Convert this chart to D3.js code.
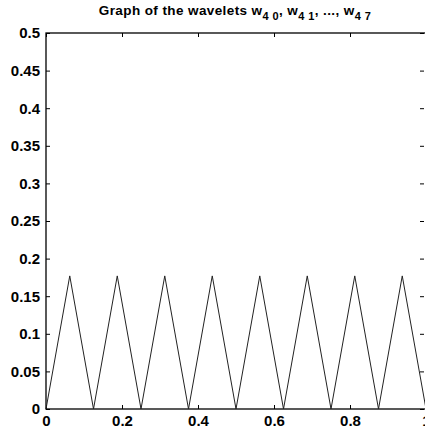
<!DOCTYPE html>
<html><head><meta charset="utf-8">
<script src="https://cdn.jsdelivr.net/npm/d3@7"></script>
<style>body{margin:0;background:#fff}svg{display:block}</style>
</head><body><svg id="c" width="425" height="435"></svg>
<script>
const xPoints = [0, 0.0625, 0.125, 0.1875, 0.25, 0.3125, 0.375, 0.4375, 0.5, 0.5625, 0.625, 0.6875, 0.75, 0.8125, 0.875, 0.9375, 1];
const yPoints = [0, 0.177, 0, 0.177, 0, 0.177, 0, 0.177, 0, 0.177, 0, 0.177, 0, 0.177, 0, 0.177, 0];
const xTicks = [0, 0.2, 0.4, 0.6, 0.8, 1];
const xTickLabels = ["0", "0.2", "0.4", "0.6", "0.8", "1"];
const yTicks = [0, 0.05, 0.1, 0.15, 0.2, 0.25, 0.3, 0.35, 0.4, 0.45, 0.5];
const yTickLabels = ["0", "0.05", "0.1", "0.15", "0.2", "0.25", "0.3", "0.35", "0.4", "0.45", "0.5"];

const svg = d3.select("#c");
const L = 46, R = 426, T = 33, B = 409;
const x = d3.scaleLinear().domain([0, 1]).range([L, R]);
const y = d3.scaleLinear().domain([0, 0.5]).range([B, T]);
const font = "'Liberation Sans', Arial, sans-serif";

// frame
svg.append("rect").attr("x", L).attr("y", T).attr("width", R - L).attr("height", B - T)
  .attr("fill", "none").attr("stroke", "#000").attr("stroke-width", 1.3);

// y axis
svg.append("g").attr("transform", `translate(${L},0)`)
  .call(d3.axisLeft(y).tickValues(yTicks).tickFormat((d, i) => yTickLabels[i]).tickSizeInner(-4).tickSizeOuter(0).tickPadding(6));
// x axis
svg.append("g").attr("transform", `translate(0,${B})`)
  .call(d3.axisBottom(x).tickValues(xTicks).tickFormat((d, i) => xTickLabels[i]).tickSizeInner(-4).tickSizeOuter(0).tickPadding(6));
// right / top ticks
svg.append("g").attr("transform", `translate(${R - 2},0)`)
  .call(d3.axisRight(y).tickValues(yTicks).tickFormat("").tickSizeInner(-4).tickSizeOuter(0));
svg.append("g").attr("transform", `translate(0,${T})`)
  .call(d3.axisTop(x).tickValues(xTicks).tickFormat("").tickSizeInner(-4).tickSizeOuter(0));
svg.selectAll(".domain").remove();
svg.selectAll(".tick line").attr("stroke", "#000");
svg.selectAll(".tick text").attr("font-family", font).attr("font-size", 15).attr("font-weight", "bold").attr("fill", "#000");

// line
const pts = xPoints.map((d, i) => [d, yPoints[i]]);
svg.append("path").datum(pts)
  .attr("d", d3.line().x(d => x(d[0])).y(d => y(d[1])))
  .attr("fill", "none").attr("stroke", "#222").attr("stroke-width", 1);

// title
const t = svg.append("text").attr("x", 235).attr("y", 15).attr("text-anchor", "middle")
  .attr("font-family", font).attr("font-size", 13.5).attr("font-weight", "bold").attr("letter-spacing", 0.4).attr("fill", "#000");
t.append("tspan").text("Graph of the wavelets w");
t.append("tspan").attr("dy", 5).attr("font-size", 11).text("4 0");
t.append("tspan").attr("dy", -5).text(", w");
t.append("tspan").attr("dy", 5).attr("font-size", 11).text("4 1");
t.append("tspan").attr("dy", -5).text(", ..., w");
t.append("tspan").attr("dy", 5).attr("font-size", 11).text("4 7");
</script></body></html>
